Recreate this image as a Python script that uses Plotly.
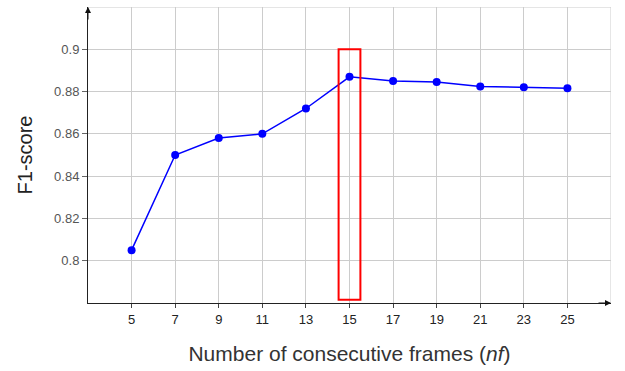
import plotly.graph_objects as go

# Number of consecutive frames vs. F1-score
frames = [5, 7, 9, 11, 13, 15, 17, 19, 21, 23, 25]
f1_scores = [0.805, 0.850, 0.858, 0.860, 0.872, 0.887, 0.885, 0.8845, 0.8824, 0.882, 0.8816]
y_ticks = [0.80, 0.82, 0.84, 0.86, 0.88, 0.90]
y_tick_labels = ["0.8", "0.82", "0.84", "0.86", "0.88", "0.9"]

# Highlighted best setting
best_nf = 15
highlight_half_width = 0.5
highlight_top = 0.90
highlight_bottom = 0.7815

x_range = [3, 27]
y_range = [0.78, 0.92]

font_family = "Liberation Sans, Arial, sans-serif"
grid_color = "#cccccc"

fig = go.Figure()

fig.add_trace(go.Scatter(
    x=frames, y=f1_scores, mode="lines+markers",
    line=dict(color="#0000ff", width=1.5),
    marker=dict(color="#0000ff", size=8),
    showlegend=False, cliponaxis=False,
))

# Red box around the chosen nf
fig.add_shape(
    type="rect", xref="x", yref="y",
    x0=best_nf - highlight_half_width, x1=best_nf + highlight_half_width,
    y0=highlight_bottom, y1=highlight_top,
    line=dict(color="#ff0000", width=2), fillcolor="rgba(0,0,0,0)",
)

# Outer grid border (top and right)
fig.add_shape(type="line", xref="paper", yref="y", x0=0, x1=1,
              y0=y_range[1], y1=y_range[1], line=dict(color=grid_color, width=1), layer="below")
fig.add_shape(type="line", xref="x", yref="paper", x0=x_range[1], x1=x_range[1],
              y0=0, y1=1, line=dict(color=grid_color, width=1), layer="below")

# Axis arrows
fig.add_annotation(xref="paper", yref="paper", x=1.0, y=0, ax=-14, ay=0,
                   showarrow=True, arrowhead=2, arrowsize=1.2, arrowwidth=1,
                   arrowcolor="#111111", text="")
fig.add_annotation(xref="paper", yref="paper", x=0, y=1.0, ax=0, ay=14,
                   showarrow=True, arrowhead=2, arrowsize=1.2, arrowwidth=1,
                   arrowcolor="#111111", text="")

fig.update_layout(
    width=625, height=371,
    margin=dict(l=88, r=14, t=7, b=68),
    plot_bgcolor="white", paper_bgcolor="white",
    font=dict(family=font_family),
    xaxis=dict(
        range=x_range, tickvals=frames, ticktext=[str(v) for v in frames],
        showgrid=True, gridcolor=grid_color, gridwidth=1,
        showline=True, linecolor="#222222", linewidth=1,
        ticks="outside", ticklen=4, tickcolor="#444444",
        tickfont=dict(size=13, color="#222222"),
        zeroline=False,
        title=dict(text="Number of consecutive frames (<i>nf</i>)",
                   font=dict(size=21, color="#333333"), standoff=20),
    ),
    yaxis=dict(
        range=y_range, tickvals=y_ticks, ticktext=y_tick_labels,
        showgrid=True, gridcolor=grid_color, gridwidth=1,
        showline=True, linecolor="#222222", linewidth=1,
        ticks="outside", ticklen=5, tickcolor="#666666",
        tickfont=dict(size=13, color="#555555"),
        zeroline=False,
        title=dict(text="F1-score", font=dict(size=20, color="#222222"), standoff=16),
    ),
)

fig.write_html("out.html")
